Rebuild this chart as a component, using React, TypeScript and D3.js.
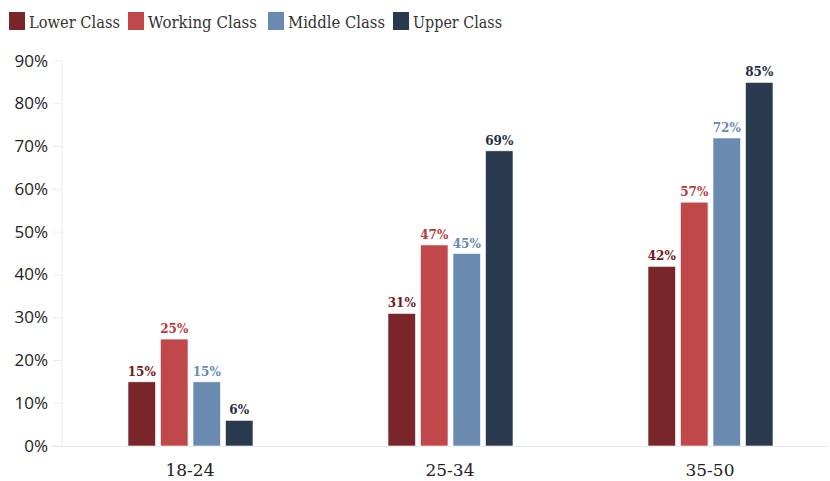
import React from "react";
import * as d3 from "d3";

const categories = ["18-24", "25-34", "35-50"];
const seriesNames = ["Lower Class", "Working Class", "Middle Class", "Upper Class"];
const lowerClass = [15, 31, 42];
const workingClass = [25, 47, 57];
const middleClass = [15, 45, 72];
const upperClass = [6, 69, 85];
const yTicks = [0, 10, 20, 30, 40, 50, 60, 70, 80, 90];

const seriesValues = [lowerClass, workingClass, middleClass, upperClass];
const barColors = ["#79252a", "#c0474a", "#6a8baf", "#2a3a4e"];
const labelColors = ["#74181d", "#b7393d", "#6a8baf", "#1f2e42"];

const W = 830;
const H = 481;
const serif = "'DejaVu Serif', 'Liberation Serif', serif";
const sans = "'Open Sans', 'Noto Sans', sans-serif";

export default function App() {
  const x0 = d3.scaleBand<string>().domain(categories).range([60, 840]).paddingInner(0).paddingOuter(0);
  const x1 = d3
    .scaleBand<string>()
    .domain(seriesNames)
    .range([68, 193])
    .paddingInner(0.154)
    .paddingOuter(0);
  const y = d3.scaleLinear().domain([0, 90]).range([446, 61]);

  const legendX = [9, 128, 268, 393];
  const legendTextW = [91, 109, 97, 89];

  return (
    <svg
      width={W}
      height={H}
      style={{ position: "absolute", left: 0, top: 0, background: "#fff" }}
    >
      {/* legend */}
      {seriesNames.map((s, i) => (
        <g key={s}>
          <rect x={legendX[i]} y={12} width={16} height={18} fill={barColors[i]} />
          <text
            x={legendX[i] + 20}
            y={27.5}
            fontFamily={serif}
            fontSize={17.5}
            fill="#333"
            textLength={legendTextW[i]}
            lengthAdjust="spacingAndGlyphs"
          >
            {s}
          </text>
        </g>
      ))}

      {/* axis lines */}
      <line x1={62} x2={62} y1={61} y2={446} stroke="#ececec" strokeWidth={1} />
      <line x1={52} x2={828} y1={446.5} y2={446.5} stroke="#e6e6e6" strokeWidth={1} />
      {yTicks.map((t) => (
        <g key={t}>
          <line x1={53} x2={62} y1={y(t)} y2={y(t)} stroke="#ececec" strokeWidth={1} />
          <text
            x={48}
            y={y(t) + 5.5}
            textAnchor="end"
            fontFamily={sans}
            fontSize={17}
            fill="#222"
          >
            {t}%
          </text>
        </g>
      ))}

      {/* bars */}
      {categories.map((c, ci) => (
        <g key={c} transform={`translate(${x0(c)},0)`}>
          {seriesNames.map((s, si) => {
            const v = seriesValues[si][ci];
            const bx = x1(s)!;
            const bw = x1.bandwidth();
            return (
              <g key={s}>
                <rect
                  x={bx}
                  y={y(v)}
                  width={bw}
                  height={y(0) - y(v)}
                  fill={barColors[si]}
                  stroke="#fff"
                  strokeWidth={0.6}
                />
                <text
                  x={bx + bw / 2}
                  y={y(v) - 6}
                  textAnchor="middle"
                  fontFamily={serif}
                  fontWeight="bold"
                  fontSize={12}
                  fill={labelColors[si]}
                >
                  {v}%
                </text>
              </g>
            );
          })}
          <text
            x={x0.bandwidth() / 2}
            y={476}
            textAnchor="middle"
            fontFamily={serif}
            fontSize={17}
            fill="#222"
          >
            {c}
          </text>
        </g>
      ))}
    </svg>
  );
}
